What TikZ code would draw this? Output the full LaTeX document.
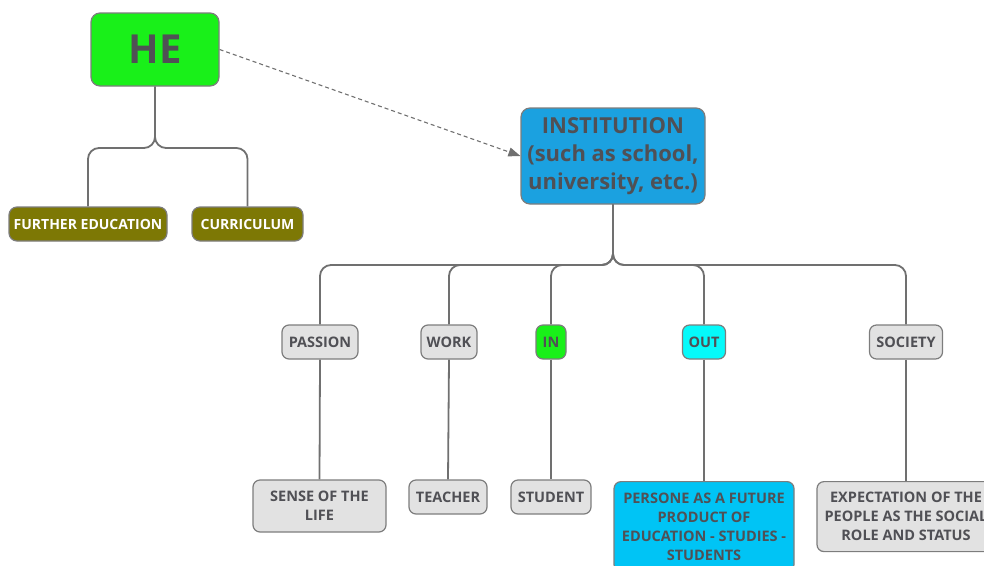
\documentclass[tikz,border=0pt]{standalone}
\usepackage{fontspec}
\setmainfont{Open Sans}
\usetikzlibrary{arrows.meta}
\definecolor{hegreen}{RGB}{25,240,25}
\definecolor{olivebox}{RGB}{125,120,5}
\definecolor{instblue}{RGB}{27,161,224}
\definecolor{outcyan}{RGB}{5,250,250}
\definecolor{persblue}{RGB}{0,196,245}
\definecolor{grayfill}{RGB}{226,226,226}
\definecolor{bordergray}{RGB}{125,125,125}
\definecolor{txtgray}{RGB}{80,80,85}
\definecolor{linegray}{RGB}{112,112,112}
\tikzset{
  box/.style={draw=bordergray, line width=1.2pt, rounded corners=7pt, align=center,
    inner sep=0pt, text=txtgray, font=\bfseries\fontsize{14.5}{19}\selectfont},
  graybox/.style={box, fill=grayfill},
  olive/.style={box, fill=olivebox, text=white, rounded corners=8pt,
    font=\bfseries\fontsize{14}{19}\selectfont},
  conn/.style={draw=linegray, line width=1.8pt, rounded corners=11pt},
}
\begin{document}
\begin{tikzpicture}[x=1pt,y=-1pt]
\useasboundingbox (0,0) rectangle (984,565);
\clip (0,0) rectangle (984,565);
% top level
\node[box, fill=hegreen, minimum width=128pt, minimum height=73pt, rounded corners=9pt,
  font=\bfseries\fontsize{40}{44}\selectfont] (he) at (155,49.5) {HE};
\node[olive, minimum width=158pt, minimum height=34pt] (fe) at (88,224) {FURTHER EDUCATION};
\node[olive, minimum width=111pt, minimum height=34pt] (cur) at (247.5,224) {CURRICULUM};
\node[box, fill=instblue, minimum width=184pt, minimum height=96pt, rounded corners=9pt,
  font=\bfseries\fontsize{22}{28}\selectfont] (inst) at (613,156) {INSTITUTION\\(such as school,\\university, etc.)};
% middle row
\node[graybox, minimum width=76pt, minimum height=34pt] (pas) at (320,342) {PASSION};
\node[graybox, minimum width=56pt, minimum height=34pt] (work) at (449,342) {WORK};
\node[box, fill=hegreen, minimum width=30pt, minimum height=34pt] (in) at (551,342) {IN};
\node[box, fill=outcyan, minimum width=43pt, minimum height=34pt] (out) at (704,342) {OUT};
\node[graybox, minimum width=73pt, minimum height=34pt] (soc) at (906,342) {SOCIETY};
% bottom row
\node[graybox, minimum width=133pt, minimum height=52pt] (sense) at (319.5,506) {SENSE OF THE\\LIFE};
\node[graybox, minimum width=78pt, minimum height=34pt] (teach) at (448,497) {TEACHER};
\node[graybox, minimum width=80pt, minimum height=34pt] (stud) at (551,497) {STUDENT};
\node[box, fill=persblue, minimum width=180pt, minimum height=90pt, anchor=north] (pers) at (704,481) {PERSONE AS A FUTURE\\PRODUCT OF\\EDUCATION - STUDIES -\\STUDENTS};
\node[graybox, minimum width=178pt, minimum height=70pt, anchor=north] (expe) at (906,481) {EXPECTATION OF THE\\PEOPLE AS THE SOCIAL\\ROLE AND STATUS};
% level coordinates
\coordinate (hy) at (0,148);
\coordinate (iy) at (0,265);
% connectors
\draw[conn] (he.south) -- (he.south |- hy) -| (fe.north);
\draw[conn] (he.south) -- (he.south |- hy) -| (cur.north);
\foreach \c in {pas,work,in,out,soc}{
  \draw[conn] (inst.south) -- (inst.south |- iy) -| (\c.north);
}
\draw[conn, rounded corners=0pt] (pas.south) -- (sense.north);
\draw[conn, rounded corners=0pt] (work.south) -- (teach.north);
\draw[conn, rounded corners=0pt] (in.south) -- (stud.north);
\draw[conn, rounded corners=0pt] (out.south) -- (pers.north);
\draw[conn, rounded corners=0pt] (soc.south) -- (expe.north);
% dashed arrow
\draw[draw=linegray, line width=1.1pt, dash pattern=on 4pt off 3pt,
  -{Triangle[length=12pt,width=9pt]}] (he.east) -- (inst.west);
\end{tikzpicture}
\end{document}
